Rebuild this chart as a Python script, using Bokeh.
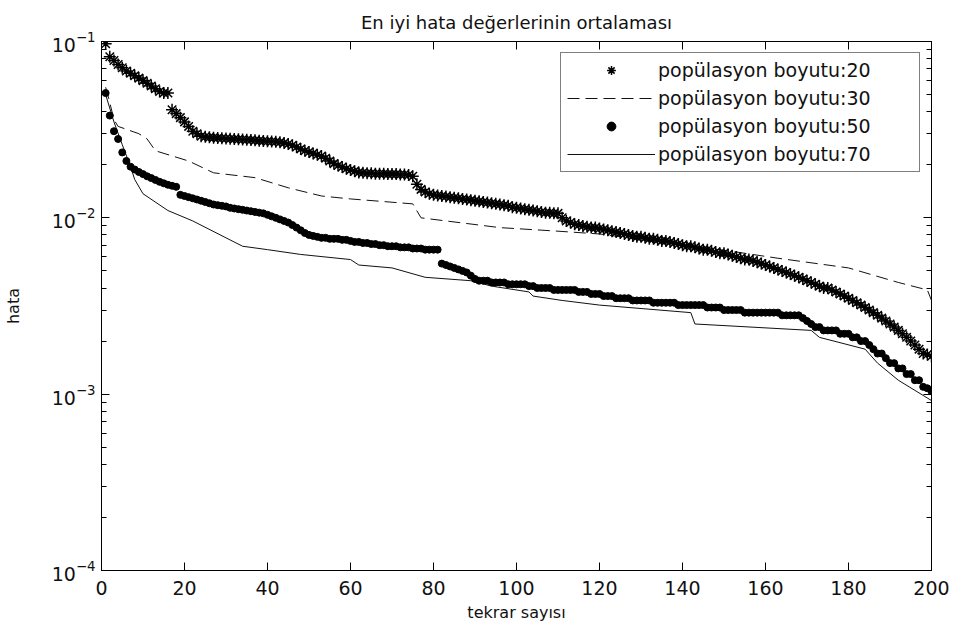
from bokeh.plotting import figure
from bokeh.models import (LogAxis, LinearAxis, Legend, LegendItem, LogTicker,
                          FixedTicker, CustomJSTickFormatter)
from bokeh.embed import file_html
from bokeh.resources import INLINE

# ---------------- data ----------------
iter_all = list(range(1, 201))

pop20 = [
    0.097, 0.082, 0.078, 0.074, 0.071, 0.068, 0.066, 0.064, 0.062, 0.060,
    0.058, 0.056, 0.054, 0.052, 0.051, 0.051, 0.041, 0.039, 0.037, 0.035,
    0.033, 0.031, 0.030, 0.029, 0.0288, 0.0286, 0.0285, 0.0284, 0.0283, 0.0282,
    0.0281, 0.0280, 0.0279, 0.0278, 0.0277, 0.0276, 0.0275, 0.0274, 0.0273, 0.0272,
    0.0271, 0.0270, 0.0268, 0.0266, 0.0262, 0.0258, 0.0252, 0.0246, 0.0240, 0.0236,
    0.0232, 0.0228, 0.0224, 0.0218, 0.0210, 0.0203, 0.0198, 0.0194, 0.0190, 0.0187,
    0.0184, 0.0181, 0.0180, 0.0179, 0.0179, 0.0178, 0.0178, 0.0178, 0.0177, 0.0177,
    0.0177, 0.0176, 0.0176, 0.0175, 0.0172, 0.0155, 0.0145, 0.0140, 0.0137, 0.0135,
    0.0134, 0.0133, 0.0132, 0.0131, 0.0130, 0.0129, 0.0128, 0.0127, 0.0126, 0.0125,
    0.0124, 0.0123, 0.0122, 0.0121, 0.0120, 0.0119, 0.0118, 0.0117, 0.0115, 0.0114,
    0.0113, 0.0112, 0.0111, 0.0110, 0.0109, 0.0108, 0.0107, 0.0107, 0.0106, 0.0106,
    0.0100, 0.0096, 0.0094, 0.0092, 0.0091, 0.0090, 0.0089, 0.0088, 0.0088, 0.0087,
    0.0086, 0.0085, 0.0084, 0.0083, 0.0082, 0.0081, 0.0080, 0.0079, 0.0078, 0.0078,
    0.0077, 0.0076, 0.0076, 0.0075, 0.0074, 0.0074, 0.0073, 0.0072, 0.0071, 0.0070,
    0.0069, 0.0069, 0.0068, 0.0067, 0.0066, 0.0066, 0.0065, 0.0064, 0.0063, 0.0063,
    0.0062, 0.0061, 0.0060, 0.0059, 0.0058, 0.0058, 0.0057, 0.0056, 0.0055, 0.0054,
    0.0053, 0.0052, 0.0051, 0.0050, 0.0049, 0.0048, 0.0047, 0.0046, 0.0045, 0.0044,
    0.0043, 0.0042, 0.0041, 0.0040, 0.0040, 0.0039, 0.0038, 0.0037, 0.0036, 0.0035,
    0.0034, 0.0033, 0.0032, 0.0031, 0.0030, 0.0029, 0.0028, 0.0027, 0.0026, 0.0025,
    0.0024, 0.0023, 0.0022, 0.0021, 0.0020, 0.0019, 0.0018, 0.0017, 0.00168, 0.00164,
]

pop50 = [
    0.051, 0.038, 0.031, 0.028, 0.0235, 0.021, 0.0195, 0.0188, 0.0182, 0.0177,
    0.0172, 0.0168, 0.0164, 0.0160, 0.0157, 0.0154, 0.0152, 0.0150, 0.0135, 0.0133,
    0.0131, 0.0129, 0.0127, 0.0125, 0.0123, 0.0121, 0.0119, 0.0118, 0.0117, 0.0116,
    0.0114, 0.0113, 0.0112, 0.0111, 0.0110, 0.0109, 0.0108, 0.0107, 0.0106, 0.0104,
    0.0102, 0.0100, 0.0098, 0.0096, 0.0094, 0.0091, 0.0088, 0.0085, 0.0082, 0.0080,
    0.0079, 0.0078, 0.0077, 0.0077, 0.0076, 0.0076, 0.0076, 0.0075, 0.0075, 0.0074,
    0.0073, 0.0073, 0.0072, 0.0072, 0.0071, 0.0071, 0.0070, 0.0070, 0.0069, 0.0069,
    0.0069, 0.0068, 0.0068, 0.0068, 0.0067, 0.0067, 0.0067, 0.0066, 0.0066, 0.0066,
    0.0066, 0.0055, 0.0054, 0.0053, 0.0052, 0.0051, 0.0050, 0.0049, 0.0047, 0.0045,
    0.0044, 0.0044, 0.0044, 0.0043, 0.0043, 0.0043, 0.0043, 0.0042, 0.0042, 0.0042,
    0.0042, 0.0042, 0.0041, 0.0041, 0.0040, 0.0040, 0.0040, 0.0040, 0.0039, 0.0039,
    0.0039, 0.0039, 0.0039, 0.0039, 0.0038, 0.0038, 0.0038, 0.0037, 0.0037, 0.0037,
    0.0036, 0.0036, 0.0036, 0.0035, 0.0035, 0.0035, 0.0035, 0.0034, 0.0034, 0.0034,
    0.0034, 0.0034, 0.0033, 0.0033, 0.0033, 0.0033, 0.0033, 0.0033, 0.0032, 0.0032,
    0.0032, 0.0032, 0.0032, 0.0032, 0.0032, 0.0031, 0.0031, 0.0031, 0.0031, 0.0030,
    0.0030, 0.0030, 0.0030, 0.0030, 0.0029, 0.0029, 0.0029, 0.0029, 0.0029, 0.0029,
    0.0029, 0.0029, 0.0029, 0.0028, 0.0028, 0.0028, 0.0028, 0.0028, 0.0027, 0.0026,
    0.0025, 0.0024, 0.0024, 0.0023, 0.0023, 0.0023, 0.0023, 0.0022, 0.0022, 0.0022,
    0.0021, 0.0021, 0.0020, 0.0020, 0.0019, 0.0018, 0.0017, 0.0017, 0.0016, 0.0015,
    0.0015, 0.0014, 0.0014, 0.0013, 0.0013, 0.0012, 0.0012, 0.0011, 0.00108, 0.00104,
]

pop30_x = [1, 2, 3, 4, 9, 11, 13, 21, 27, 37, 45, 53, 60, 75, 77, 96, 110, 120,
           140, 151, 163, 180, 192, 199, 200]
pop30_y = [0.055, 0.045, 0.036, 0.033, 0.030, 0.028, 0.024, 0.021, 0.018, 0.0169,
           0.0148, 0.0133, 0.0128, 0.0120, 0.0100, 0.0088, 0.0084, 0.0081,
           0.0070, 0.0065, 0.0059, 0.0052, 0.0043, 0.0039, 0.0034]

pop70_x = [1, 3, 5, 7, 8, 10, 16, 22, 30, 34, 40, 48, 60, 62, 70, 78, 89, 94,
           103, 104, 111, 120, 142, 143, 171, 173, 184, 187, 192, 200]
pop70_y = [0.050, 0.035, 0.026, 0.0195, 0.0165, 0.0137, 0.0110, 0.0096, 0.0077,
           0.0069, 0.0066, 0.0062, 0.0058, 0.0054, 0.0052, 0.0046, 0.0044, 0.0041,
           0.0038, 0.0036, 0.0034, 0.0032, 0.0029, 0.0025, 0.0023, 0.0021, 0.0018,
           0.0015, 0.0012, 0.00092]

x_ticks = [0, 20, 40, 60, 80, 100, 120, 140, 160, 180, 200]
labels = ["popülasyon boyutu:20", "popülasyon boyutu:30",
          "popülasyon boyutu:50", "popülasyon boyutu:70"]

FONT = "DejaVu Sans"

# ---------------- figure ----------------
p = figure(width=956, height=630, y_axis_type="log",
           x_range=(0, 200), y_range=(1e-4, 1e-1),
           output_backend="svg", toolbar_location=None,
           min_border_left=101, min_border_right=25,
           min_border_top=41, min_border_bottom=60,
           title="En iyi hata değerlerinin ortalaması")

p.background_fill_color = "white"
p.border_fill_color = "white"
p.outline_line_color = "black"
p.outline_line_width = 1
p.xgrid.visible = False
p.ygrid.visible = False

p.title.align = "center"
p.title.text_font = FONT
p.title.text_font_size = "18px"
p.title.text_font_style = "normal"
p.title.text_color = "#111111"
p.title.standoff = 18

ylog_ticker = LogTicker(desired_num_ticks=4, num_minor_ticks=10)
x_ticker = FixedTicker(ticks=x_ticks)

for ax in p.xaxis:
    ax.ticker = x_ticker
    ax.axis_label = "tekrar sayısı"
    ax.axis_label_standoff = 5
    ax.major_label_standoff = 10
for ax in p.yaxis:
    ax.ticker = ylog_ticker
    ax.axis_label = "hata"
    ax.axis_label_standoff = 26
    ax.major_label_standoff = 6

for ax in list(p.xaxis) + list(p.yaxis):
    ax.axis_line_color = "black"
    ax.major_tick_in = 8
    ax.major_tick_out = 0
    ax.minor_tick_in = 5
    ax.minor_tick_out = 0
    ax.major_tick_line_color = "black"
    ax.minor_tick_line_color = "black"
    ax.major_label_text_font = FONT
    ax.major_label_text_font_size = "19px"
    ax.major_label_text_color = "#111111"
    ax.axis_label_text_font = FONT
    ax.axis_label_text_font_size = "16px"
    ax.axis_label_text_font_style = "normal"
    ax.axis_label_text_color = "#111111"

p.xaxis.minor_tick_line_color = None

# mirrored axes (right, top) with ticks only, no labels
blank = CustomJSTickFormatter(code="return ''")
right_ax = LogAxis(ticker=ylog_ticker, formatter=blank,
                   major_tick_in=8, major_tick_out=0,
                   minor_tick_in=5, minor_tick_out=0,
                   major_label_standoff=0, axis_line_color="black")
top_ax = LinearAxis(ticker=x_ticker, formatter=blank,
                    major_tick_in=8, major_tick_out=0,
                    minor_tick_line_color=None,
                    major_label_standoff=0, axis_line_color="black")
p.add_layout(right_ax, "right")
p.add_layout(top_ax, "above")

# ---------------- glyphs ----------------
r70 = p.line(pop70_x, pop70_y, line_color="#111111", line_width=1)
r30 = p.line(pop30_x, pop30_y, line_color="#111111", line_width=1, line_dash="12 6")
r50 = p.scatter(iter_all, pop50, marker="circle", size=7,
                fill_color="black", line_color="black")
r20 = p.scatter(iter_all, pop20, marker="asterisk", size=12,
                line_color="black", line_width=1.5)

legend = Legend(items=[LegendItem(label=labels[0], renderers=[r20]),
                       LegendItem(label=labels[1], renderers=[r30]),
                       LegendItem(label=labels[2], renderers=[r50]),
                       LegendItem(label=labels[3], renderers=[r70])],
                location="top_right")
legend.label_text_font = FONT
legend.label_text_font_size = "19px"
legend.label_text_color = "#111111"
legend.border_line_color = "black"
legend.border_line_width = 1
legend.background_fill_color = "white"
legend.background_fill_alpha = 1
legend.glyph_width = 88
legend.glyph_height = 22
legend.label_height = 22
legend.label_width = 255
legend.label_standoff = 3
legend.spacing = 6
legend.padding = 6
legend.margin = 11
p.add_layout(legend, "center")

open("out.html", "w").write(file_html(p, INLINE))
